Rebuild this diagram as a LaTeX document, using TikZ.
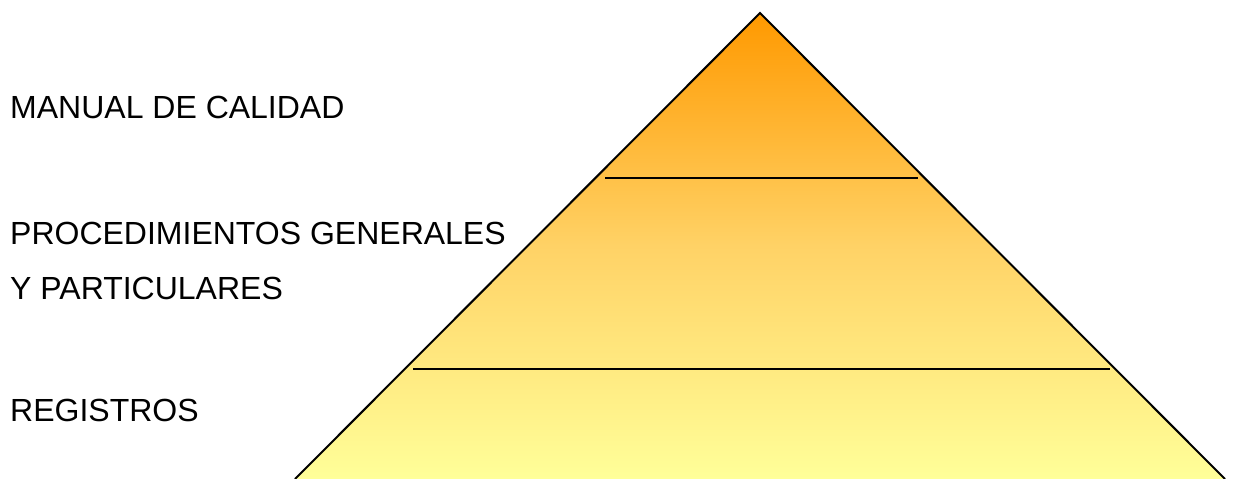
\documentclass[tikz,border=0pt]{standalone}
\usepackage{fontspec}
\setmainfont{Liberation Sans}
\definecolor{apexorange}{HTML}{FF9900}
\definecolor{baseyellow}{HTML}{FFFF99}
\definecolor{midyellow}{HTML}{FFD266}
\tikzset{
  label/.style={anchor=base west, inner sep=0pt, font=\fontsize{32}{32}\selectfont},
  divider/.style={draw=black, line width=2.5pt},
  side/.style={draw=black, line width=2pt}
}
\begin{document}
\begin{tikzpicture}[x=1pt,y=-1pt]
\useasboundingbox (0,0) rectangle (1235,479);
\coordinate (apex) at (760,13);
\coordinate (bl) at (295,479);
\coordinate (br) at (1225,479);
\shade[top color=apexorange, bottom color=baseyellow, middle color=midyellow] (apex) -- (br) -- (bl) -- cycle;
\draw[side] (bl) -- (apex) -- (br);
\coordinate (l1a) at (605,178);
\coordinate (l1b) at (918,178);
\coordinate (l2a) at (413,369);
\coordinate (l2b) at (1110,369);
\draw[divider] (l1a) -- (l1b);
\draw[divider] (l2a) -- (l2b);
\node[label] (t1) at (10,118) {MANUAL DE CALIDAD};
\node[label] (t2) at (10,244) {PROCEDIMIENTOS GENERALES};
\node[label] (t3) at (10,299) {Y PARTICULARES};
\node[label] (t4) at (10,421) {REGISTROS};
\end{tikzpicture}
\end{document}
